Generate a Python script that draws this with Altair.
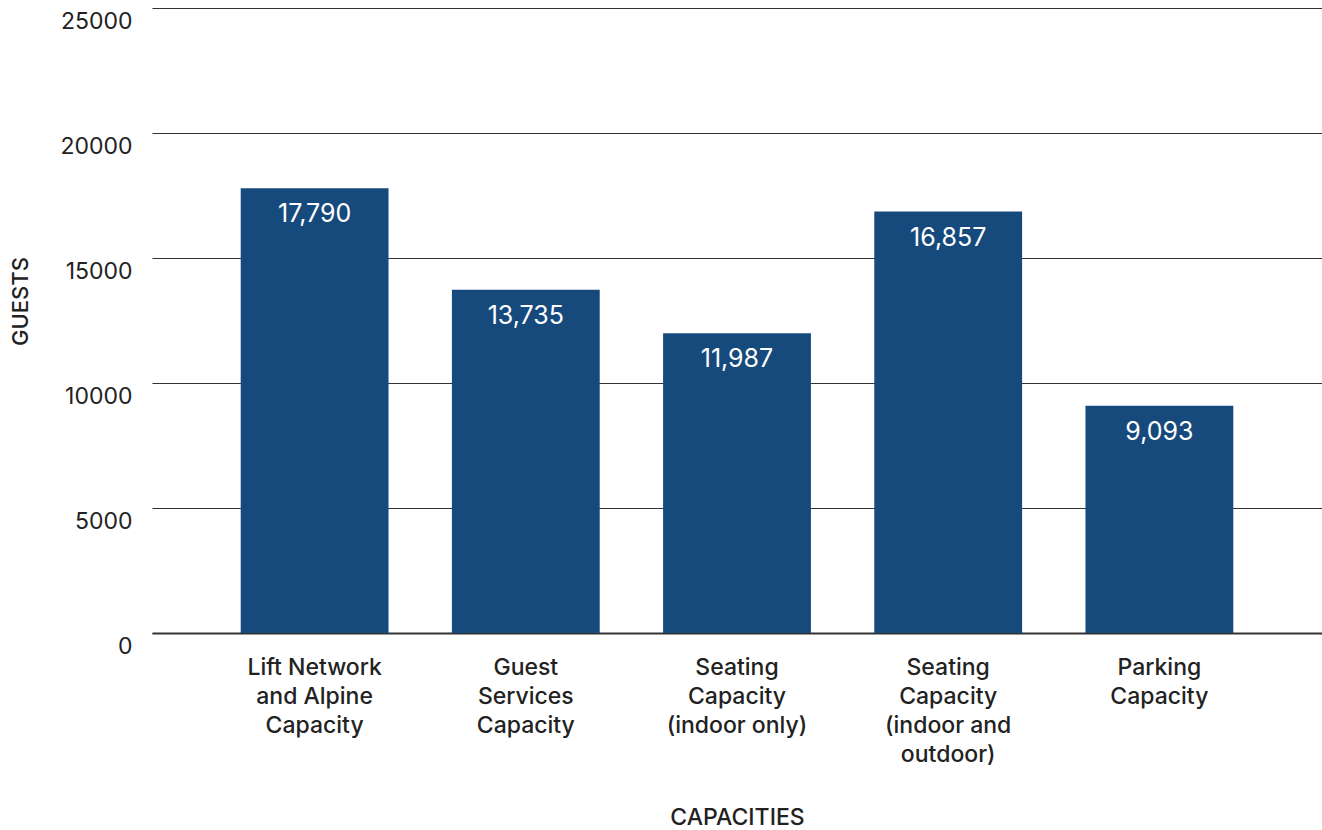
import altair as alt
import pandas as pd

# Capacity categories (line breaks mark wrapped axis labels)
categories = [
    "Lift Network\nand Alpine\nCapacity",
    "Guest\nServices\nCapacity",
    "Seating\nCapacity\n(indoor only)",
    "Seating\nCapacity\n(indoor and\noutdoor)",
    "Parking\nCapacity",
]
guests = [17790, 13735, 11987, 16857, 9093]
value_labels = ["17,790", "13,735", "11,987", "16,857", "9,093"]
y_ticks = [0, 5000, 10000, 15000, 20000, 25000]

df = pd.DataFrame({"category": categories, "guests": guests, "label": value_labels})

FONT = "Inter"
BAR = "#174a7c"
INK = "#222222"

x_enc = alt.X(
    "category:N",
    sort=categories,
    scale=alt.Scale(paddingInner=0.3, paddingOuter=0.42),
    axis=alt.Axis(
        title="CAPACITIES",
        titleFont=FONT,
        titleFontSize=23,
        titleFontWeight=500,
        titleColor=INK,
        titleY=191,
        titleBaseline="alphabetic",
        labelExpr="split(datum.label, '\\n')",
        labelAngle=0,
        labelFont=FONT,
        labelFontSize=23,
        labelFontWeight=500,
        labelColor=INK,
        labelLineHeight=29,
        labelBaseline="top",
        labelPadding=23,
        ticks=False,
        tickSize=0,
        domain=True,
        domainColor="#333333",
        domainWidth=2,
        grid=False,
    ),
)

y_enc = alt.Y(
    "guests:Q",
    scale=alt.Scale(domain=[0, 25000], nice=False),
    axis=alt.Axis(
        title="GUESTS",
        titleFont=FONT,
        titleFontSize=22,
        titleFontWeight=500,
        titleColor=INK,
        titleAngle=-90,
        titleX=-132,
        titleY=293,
        titleAlign="center",
        titleBaseline="middle",
        values=y_ticks,
        format="d",
        labelFont=FONT,
        labelFontSize=23,
        labelColor=INK,
        labelPadding=20,
        labelBaseline="middle",
        labelOffset=13,
        ticks=False,
        tickSize=0,
        domain=False,
        grid=True,
        gridColor="#333333",
        gridWidth=1.2,
    ),
)

bars = alt.Chart(df).mark_bar(color=BAR).encode(x=x_enc, y=y_enc)

text = alt.Chart(df).mark_text(
    color="white",
    font=FONT,
    fontSize=25,
    baseline="middle",
    align="center",
    dy=26,
).encode(
    x=alt.X("category:N", sort=categories),
    y=alt.Y("guests:Q"),
    text="label:N",
)

chart = (
    alt.layer(bars, text)
    .properties(
        width=1170,
        height=625,
        autosize=alt.AutoSizeParams(type="none"),
        padding={"left": 152, "top": 8, "right": 0, "bottom": 197},
        background="white",
    )
    .configure_view(stroke=None)
)

chart.save("out.html", embed_options={"renderer": "svg", "actions": False})
